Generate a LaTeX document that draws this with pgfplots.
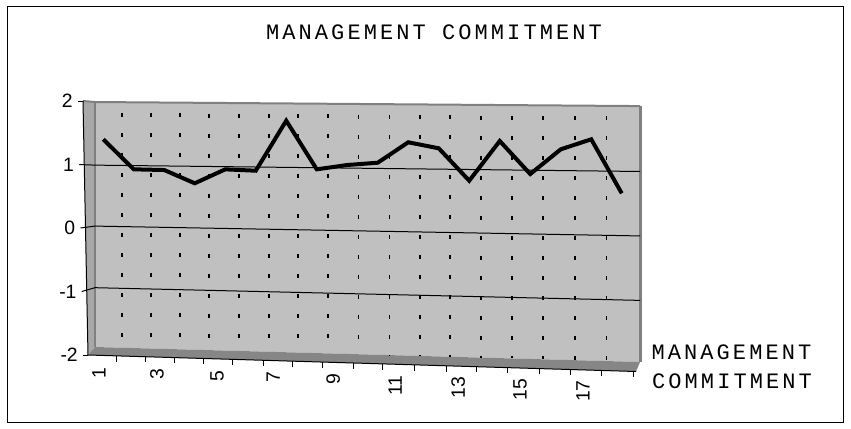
\documentclass[border=0pt]{standalone}
\usepackage{pgfplots}
\pgfplotsset{compat=1.18}
\usepackage{fontspec}
\setmainfont{Liberation Sans}
\newfontfamily\titlefont[LetterSpace=14]{Liberation Mono}
\definecolor{wallc}{HTML}{C0C0C0}
\definecolor{floorc}{HTML}{868686}
\definecolor{lwallc}{HTML}{A8A8A8}
\definecolor{edgec}{HTML}{808080}
\begin{document}
\begin{tikzpicture}
\useasboundingbox (-66pt,-55.5pt) rectangle (572.25pt,266.25pt);
\draw[black, line width=0.75pt] (-60pt,-50.25pt) rectangle (566.25pt,261pt);
\begin{axis}[
  at={(0pt,0pt)}, anchor=south west, scale only axis,
  width=411.75pt, height=190.5pt,
  xmin=0.5, xmax=18.5, ymin=-2, ymax=2,
  clip=false,
  axis line style={draw=none},
  major tick length=0pt, minor tick length=0pt,
  xtick={0.86,2.76,4.73,6.57,8.54,10.57,12.64,14.67,16.73},
  xticklabels={1,3,5,7,9,11,13,15,17},
  ytick={-2,-1,0,1,2},
  yticklabels={-2,-1,0,1,2},
  tick label style={font=\fontsize{14.5}{17}\selectfont},
  xticklabel style={yshift={-(9+1.22*\ticknum)*1pt}, rotate=90, anchor=east, inner sep=0pt},
  yticklabel style={xshift={-(7.5+0.94*\ticknum)*1pt}, anchor=east, inner sep=0pt},
  unbounded coords=jump,
]
% left wall
\addplot[fill=lwallc, draw=none] coordinates {(0.336,2) (0.73,1.984) (0.73,-1.874) (0.5,-2) (0.336,2)};
% back wall
\addplot[fill=wallc, draw=none] coordinates {(0.73,1.984) (18.6,1.92) (18.6,-2.11) (0.73,-1.874) (0.73,1.984)};
% floor
\addplot[fill=floorc, draw=none] coordinates {(0.5,-2) (0.73,-1.874) (18.6,-2.11) (18.47,-2.26) (0.5,-2)};
% edges
\addplot[edgec, line width=1.5pt] coordinates {(0.73,1.984) (0.73,-1.874)};
\addplot[edgec, line width=1.5pt] coordinates {(0.336,2) (0.73,1.984) (18.6,1.92)};
\addplot[edgec, line width=2.25pt] coordinates {(18.6,1.92) (18.6,-2.11)};
% vertical dashed gridlines on the back wall
\addplot[black, line width=1pt, dash pattern=on 3pt off 12pt, dash phase=7pt] coordinates {
(1.615,1.981) (1.615,-1.886) (1.615,nan)
(2.566,1.977) (2.566,-1.898) (2.566,nan)
(3.516,1.974) (3.516,-1.911) (3.516,nan)
(4.467,1.971) (4.467,-1.923) (4.467,nan)
(5.451,1.967) (5.451,-1.936) (5.451,nan)
(6.434,1.964) (6.434,-1.949) (6.434,nan)
(7.385,1.960) (7.385,-1.962) (7.385,nan)
(8.369,1.957) (8.369,-1.975) (8.369,nan)
(9.375,1.953) (9.375,-1.988) (9.375,nan)
(10.38,1.949) (10.38,-2.001) (10.38,nan)
(11.39,1.946) (11.39,-2.015) (11.39,nan)
(12.37,1.942) (12.37,-2.028) (12.37,nan)
(13.39,1.939) (13.39,-2.041) (13.39,nan)
(14.40,1.935) (14.40,-2.055) (14.40,nan)
(15.42,1.931) (15.42,-2.068) (15.42,nan)
(16.47,1.928) (16.47,-2.082) (16.47,nan)
(17.51,1.924) (17.51,-2.096)
};
% horizontal gridlines and y ticks
\addplot[black, line width=0.75pt] coordinates {(0.172,2) (0.336,2)};
\addplot[black, line width=0.75pt] coordinates {(0.213,1) (0.73,0.99) (18.6,0.89)};
\addplot[black, line width=0.75pt] coordinates {(0.254,0) (0.73,0.03) (18.6,-0.125)};
\addplot[black, line width=0.75pt] coordinates {(0.295,-1) (0.73,-0.94) (18.6,-1.14)};
\addplot[black, line width=0.75pt] coordinates {(0.336,-2) (0.5,-2)};
% axis lines
\addplot[black, line width=0.75pt] coordinates {(0.336,2) (0.5,-2)};
\addplot[black, line width=0.75pt] coordinates {(0.5,-2) (18.47,-2.26)};
% category ticks along the front edge of the floor
\addplot[black, line width=0.75pt] coordinates {
(1.45,-2.014) (1.45,-2.104) (1.45,nan)
(2.40,-2.027) (2.40,-2.117) (2.40,nan)
(3.35,-2.041) (3.35,-2.131) (3.35,nan)
(4.30,-2.055) (4.30,-2.145) (4.30,nan)
(5.25,-2.069) (5.25,-2.159) (5.25,nan)
(6.24,-2.083) (6.24,-2.173) (6.24,nan)
(7.22,-2.097) (7.22,-2.187) (7.22,nan)
(8.20,-2.111) (8.20,-2.201) (8.20,nan)
(9.19,-2.126) (9.19,-2.216) (9.19,nan)
(10.17,-2.140) (10.17,-2.230) (10.17,nan)
(11.19,-2.155) (11.19,-2.245) (11.19,nan)
(12.24,-2.170) (12.24,-2.260) (12.24,nan)
(13.25,-2.184) (13.25,-2.274) (13.25,nan)
(14.27,-2.199) (14.27,-2.289) (14.27,nan)
(15.29,-2.214) (15.29,-2.304) (15.29,nan)
(16.33,-2.229) (16.33,-2.319) (16.33,nan)
(17.35,-2.244) (17.35,-2.334) (17.35,nan)
(18.37,-2.259) (18.37,-2.349)
};
% data series
\addplot[black, line width=3pt, sharp plot] coordinates {
(1,1.397) (2,0.924) (3,0.913) (4,0.704) (5,0.924) (6,0.902)
(7,1.690) (8,0.924) (9,0.992) (10,1.028) (11,1.350) (12,1.255)
(13,0.745) (14,1.370) (15,0.850) (16,1.239) (17,1.397) (18,0.546)
};
\end{axis}
\node[font=\titlefont\fontsize{16.5}{20}\selectfont, anchor=base] at (259.5pt,236.25pt) {MANAGEMENT COMMITMENT};
\node[font=\titlefont\fontsize{16.5}{20}\selectfont, anchor=base] at (482.6pt,-3.75pt) {MANAGEMENT};
\node[font=\titlefont\fontsize{16.5}{20}\selectfont, anchor=base] at (483pt,-24.75pt) {COMMITMENT};
\end{tikzpicture}
\end{document}
